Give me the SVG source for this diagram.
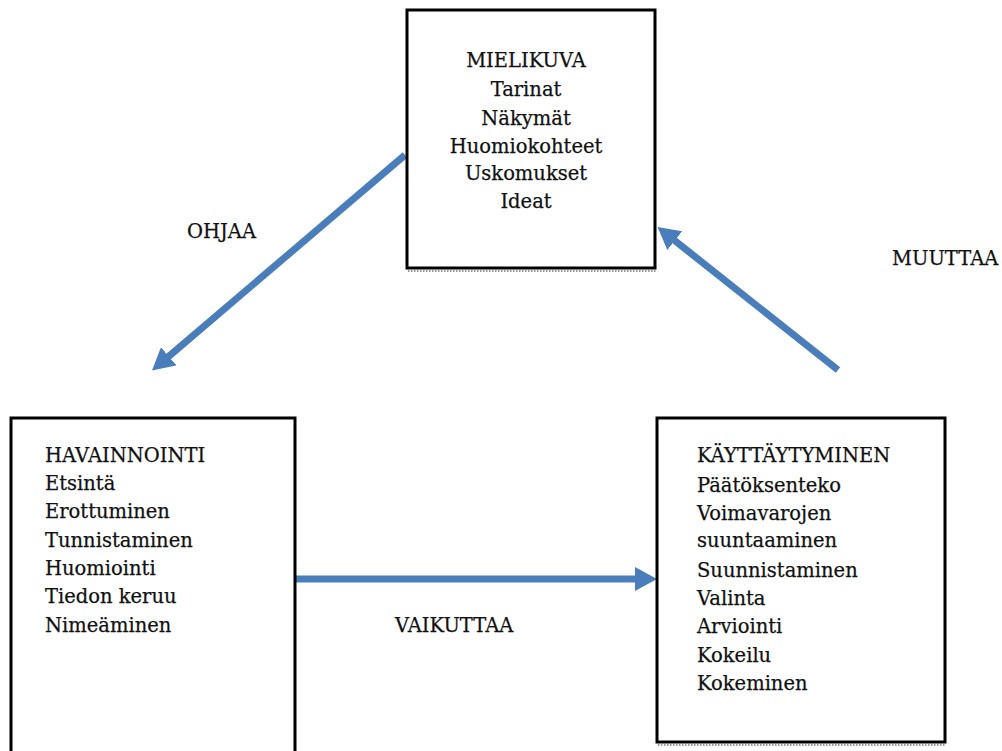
<svg xmlns="http://www.w3.org/2000/svg" width="1002" height="751" viewBox="0 0 1002 751">
<style>
.box{fill:#fff;stroke:#000;stroke-width:3}
.shadow{fill:none;stroke:#999;stroke-width:2;stroke-dasharray:1.5 1.5}
.t{font-family:"DejaVu Serif","Liberation Serif",serif;font-size:19.5px;fill:#111;stroke:#111;stroke-width:0.25}
.c{text-anchor:middle}
.arr{fill:none;stroke:#4a7ebb;stroke-width:7}
</style>
<defs>
<marker id="ah" markerUnits="userSpaceOnUse" viewBox="0 0 22 24" refX="1" refY="12" markerWidth="22" markerHeight="24" orient="auto">
<path d="M0,0 L22,12 L0,24 z" fill="#4a7ebb"/>
</marker>
</defs>
<rect width="1002" height="751" fill="#fff"/>
<g id="connectors">
<line class="arr" x1="405" y1="155" x2="168" y2="357" marker-end="url(#ah)"/>
<line class="arr" x1="838" y1="370" x2="674" y2="240" marker-end="url(#ah)"/>
<line class="arr" x1="295" y1="579" x2="636" y2="579" stroke-width="8" marker-end="url(#ah)"/>
</g>
<g id="mielikuva">
<rect class="box" x="407" y="10" width="248" height="258"/>
<line class="shadow" x1="408" y1="271" x2="656" y2="271"/>
<text class="t c" x="526" y="67">MIELIKUVA</text>
<text class="t c" x="526" y="96">Tarinat</text>
<text class="t c" x="526" y="125">Näkymät</text>
<text class="t c" x="526" y="153">Huomiokohteet</text>
<text class="t c" x="526" y="180">Uskomukset</text>
<text class="t c" x="526" y="208">Ideat</text>
</g>
<g id="havainnointi">
<rect class="box" x="11" y="418" width="284" height="340"/>
<text class="t" x="45" y="462">HAVAINNOINTI</text>
<text class="t" x="45" y="490">Etsintä</text>
<text class="t" x="45" y="518">Erottuminen</text>
<text class="t" x="45" y="547">Tunnistaminen</text>
<text class="t" x="45" y="575">Huomiointi</text>
<text class="t" x="45" y="603">Tiedon keruu</text>
<text class="t" x="45" y="632">Nimeäminen</text>
</g>
<g id="kayttaytyminen">
<rect class="box" x="657" y="418" width="288" height="324"/>
<line class="shadow" x1="658" y1="745" x2="946" y2="745"/>
<text class="t" x="697" y="462">KÄYTTÄYTYMINEN</text>
<text class="t" x="697" y="492">Päätöksenteko</text>
<text class="t" x="697" y="520">Voimavarojen</text>
<text class="t" x="697" y="547">suuntaaminen</text>
<text class="t" x="697" y="577">Suunnistaminen</text>
<text class="t" x="697" y="605">Valinta</text>
<text class="t" x="697" y="633">Arviointi</text>
<text class="t" x="697" y="662">Kokeilu</text>
<text class="t" x="697" y="690">Kokeminen</text>
</g>
<g id="labels">
<text class="t" x="187" y="238">OHJAA</text>
<text class="t" x="892" y="265">MUUTTAA</text>
<text class="t" x="395" y="632">VAIKUTTAA</text>
</g>
</svg>
